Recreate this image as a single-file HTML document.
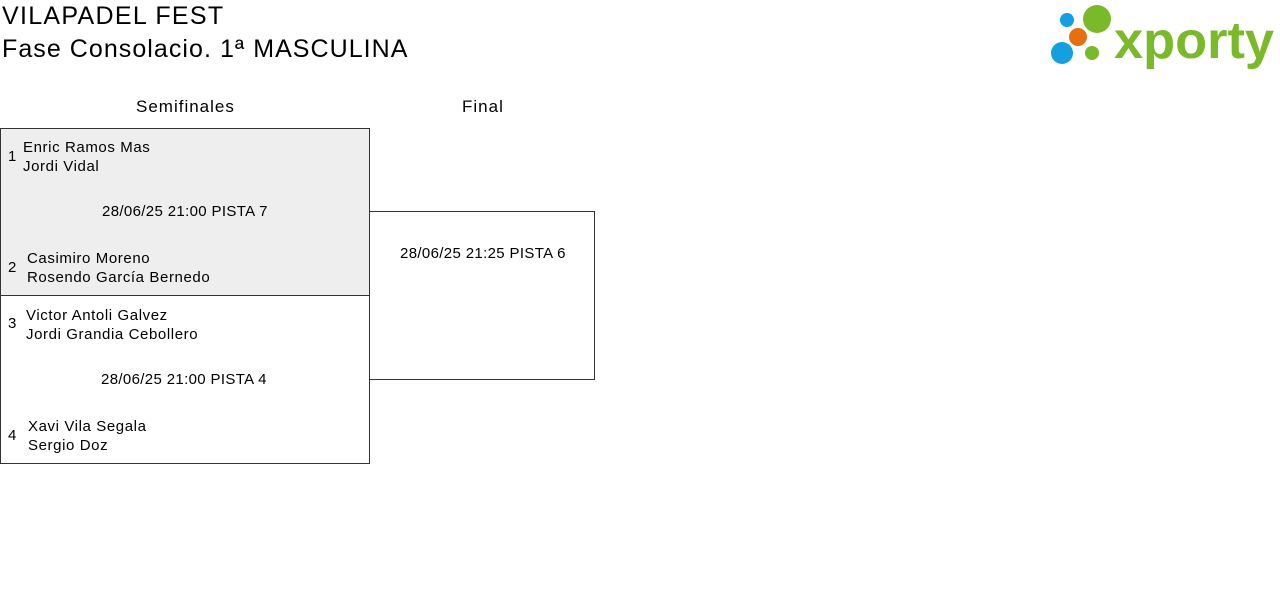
<!DOCTYPE html>
<html><head><meta charset="utf-8"><style>
body{margin:0;width:1280px;height:595px;background:#fff;font-family:"Liberation Sans",sans-serif;color:#000;position:relative;overflow:hidden}
.a{position:absolute;white-space:nowrap}
.t{font-size:25px}
.s{font-size:15px;letter-spacing:0.6px}
.d{letter-spacing:0.35px}
.box{position:absolute;border:1px solid #333;box-sizing:border-box}
</style></head><body>
<div class="a t" style="left:2px;top:2px;letter-spacing:1.3px">VILAPADEL FEST</div>
<div class="a t" style="left:2px;top:35px;letter-spacing:1.05px">Fase Consolacio. 1ª MASCULINA</div>
<svg class="a" style="left:1040px;top:0" width="240" height="75">
<circle cx="27" cy="20" r="7" fill="#139fe0"/>
<circle cx="57" cy="19" r="14" fill="#7ab929"/>
<circle cx="38" cy="37" r="9" fill="#e5700f"/>
<circle cx="22" cy="53" r="11" fill="#139fe0"/>
<circle cx="52" cy="53" r="7" fill="#7ab929"/>
<text x="74" y="58" font-family="Liberation Sans" font-weight="bold" font-size="52" fill="#7ab929" textLength="160" lengthAdjust="spacingAndGlyphs">xporty</text>
</svg>
<div class="a" style="left:136px;top:97px;font-size:17px;letter-spacing:1px">Semifinales</div>
<div class="a" style="left:462px;top:97px;font-size:17px;letter-spacing:1px">Final</div>
<div class="box" style="left:0;top:128px;width:370px;height:168px;background:#eee"></div>
<div class="box" style="left:0;top:295px;width:370px;height:169px"></div>
<div class="box" style="left:369px;top:211px;width:226px;height:169px"></div>
<div class="a s" style="left:8px;top:148px">1</div>
<div class="a s" style="left:23px;top:138px;line-height:19px">Enric Ramos Mas<br>Jordi Vidal</div>
<div class="a s d" style="left:102px;top:203px">28/06/25 21:00 PISTA 7</div>
<div class="a s" style="left:8px;top:259px">2</div>
<div class="a s" style="left:27px;top:249px;line-height:19px">Casimiro Moreno<br>Rosendo García Bernedo</div>
<div class="a s" style="left:8px;top:315px">3</div>
<div class="a s" style="left:26px;top:306px;line-height:19px">Victor Antoli Galvez<br>Jordi Grandia Cebollero</div>
<div class="a s d" style="left:101px;top:371px">28/06/25 21:00 PISTA 4</div>
<div class="a s" style="left:8px;top:427px">4</div>
<div class="a s" style="left:28px;top:417px;line-height:19px">Xavi Vila Segala<br>Sergio Doz</div>
<div class="a s d" style="left:400px;top:245px">28/06/25 21:25 PISTA 6</div>
</body></html>
